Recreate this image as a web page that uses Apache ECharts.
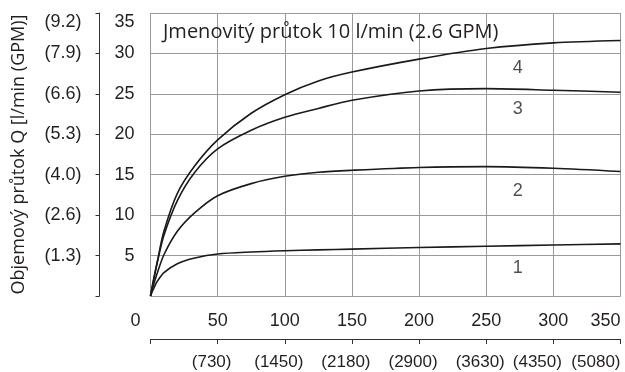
<!DOCTYPE html>
<html>
<head>
<meta charset="utf-8">
<script src="https://cdn.jsdelivr.net/npm/echarts@6/dist/echarts.min.js"></script>
<style>html,body{margin:0;padding:0;background:#fff}.c{width:625px;height:372px}</style>
</head>
<body>
<div id="a" class="c"></div>
<script>
// ---- data ----
var titleText = 'Jmenovitý průtok 10 l/min (2.6 GPM)';
var yName = 'Objemový průtok Q [l/min (GPM)]';
var flowX = [0, 2, 5, 10, 20, 33, 50, 75, 100, 125, 150, 200, 250, 300, 350];
var curve1 = [0, 0.8, 1.8, 2.9, 4.0, 4.7, 5.2, 5.45, 5.6, 5.7, 5.8, 6.0, 6.15, 6.3, 6.45];
var curve2 = [0, 1.2, 2.8, 5.1, 8.0, 10.3, 12.4, 13.9, 14.8, 15.3, 15.55, 15.9, 16.0, 15.8, 15.4];
var curve3 = [0, 1.7, 4.1, 7.5, 11.8, 15.3, 18.2, 20.5, 22.1, 23.2, 24.2, 25.35, 25.65, 25.45, 25.2];
var curve4 = [0, 1.8, 4.2, 8.0, 12.7, 16.1, 19.3, 22.6, 24.9, 26.6, 27.7, 29.3, 30.6, 31.3, 31.6];
var curveNames = ['1', '2', '3', '4'];
var curveLabelX = [273.5, 273.5, 273.5, 273.5];
var curveLabelY = [3.4, 13.0, 23.1, 28.2];
var xTicks = [0, 50, 100, 150, 200, 250, 300, 350];
var yTicks = [0, 5, 10, 15, 20, 25, 30, 35];
var gpmLabels = ['', '(1.3)', '(2.6)', '(4.0)', '(5.3)', '(6.6)', '(7.9)', '(9.2)'];
var rpmLabels = ['', '(730)', '(1450)', '(2180)', '(2900)', '(3630)', '(4350)', '(5080)'];

var SANS = '"Liberation Sans", Arial, sans-serif';
var HUMAN = '"Open Sans", "Noto Sans", sans-serif';
var TXT = '#231f20';
var GRIDC = '#9a9a9a';

function pairs(ys) { return flowX.map(function (x, i) { return [x, ys[i]]; }); }
function lineSeries(name, ys) {
  return { name: name, type: 'line', data: pairs(ys), smooth: 0.3, showSymbol: false,
    lineStyle: { color: '#1a1a1a', width: 1.6 }, silent: true, z: 5 };
}

var x0 = { type: 'value', min: 0, max: 350, interval: 50, position: 'bottom',
  axisLine: { show: false }, axisTick: { show: false },
  splitLine: { show: true, lineStyle: { color: GRIDC, width: 1 } },
  axisLabel: { margin: 16, fontFamily: SANS, fontSize: 18, color: TXT,
    alignMaxLabel: 'right', alignMinLabel: 'right', hideOverlap: false,
    formatter: function (v) { return v === 0 ? '{z|0}' : String(v); },
    rich: { z: { fontFamily: SANS, fontSize: 18, color: TXT, padding: [0, 10, 0, 0] } } } };
var x1 = { type: 'value', min: 0, max: 350, interval: 50, position: 'bottom', offset: 43,
  axisLine: { show: true, onZero: false, lineStyle: { color: '#333', width: 1 } },
  axisTick: { show: true, inside: false, length: 5, lineStyle: { color: '#333' } },
  splitLine: { show: false },
  axisLabel: { margin: 15, fontFamily: SANS, fontSize: 17, color: TXT, alignMaxLabel: 'right', hideOverlap: false,
    formatter: function (v) {
      var i = Math.round(v / 50);
      var s = rpmLabels[i];
      if (!s) return '';
      if (i === 7) return s;
      return (i === 6 ? '{b|' : '{a|') + s + '}';
    },
    rich: { a: { fontFamily: SANS, fontSize: 17, color: TXT, padding: [0, 12, 0, 0] },
            b: { fontFamily: SANS, fontSize: 17, color: TXT, padding: [0, 32, 0, 0] } } } };
var y0 = { type: 'value', min: 0, max: 35, interval: 5, position: 'left',
  axisLine: { show: false }, axisTick: { show: false },
  splitLine: { show: true, lineStyle: { color: GRIDC, width: 1 } },
  axisLabel: { margin: 16, fontFamily: SANS, fontSize: 18, color: TXT, verticalAlignMaxLabel: 'top',
    formatter: function (v) { return v === 0 ? '' : String(v); } } };
var y1 = { type: 'value', min: 0, max: 35, interval: 5, position: 'left', offset: 51,
  name: yName, nameLocation: 'middle', nameGap: 72, nameRotate: 90,
  nameTextStyle: { fontFamily: HUMAN, fontSize: 18, color: TXT },
  axisLine: { show: true, onZero: false, lineStyle: { color: '#333', width: 1 } },
  axisTick: { show: true, inside: false, length: 4, lineStyle: { color: '#333' } },
  splitLine: { show: false },
  axisLabel: { margin: 18, fontFamily: SANS, fontSize: 18, color: TXT, verticalAlignMaxLabel: 'top',
    formatter: function (v) { return gpmLabels[Math.round(v / 5)] || ''; } } };

var gridLines = xTicks.map(function (v) { return { xAxis: v }; })
  .concat(yTicks.map(function (v) { return { yAxis: v }; }));

var option = {
  animation: false,
  title: { text: titleText, left: 158, top: 17,
    textStyle: { fontFamily: HUMAN, fontSize: 20, fontWeight: 'normal', color: TXT } },
  grid: { left: 150.5, right: 4.5, top: 13, bottom: 76 },
  xAxis: [x0, x1],
  yAxis: [y0, y1],
  series: [
    { type: 'scatter', symbolSize: 0, silent: true, z: 1, data: [],
      markLine: { silent: true, symbol: ['none', 'none'], animation: false,
        label: { show: false }, emphasis: { disabled: true },
        lineStyle: { color: GRIDC, width: 1, type: 'solid' }, data: gridLines } },
    lineSeries('1', curve1),
    lineSeries('2', curve2),
    lineSeries('3', curve3),
    lineSeries('4', curve4),
    { type: 'scatter', symbolSize: 0, silent: true,
      data: curveNames.map(function (n, i) { return { name: n, value: [curveLabelX[i], curveLabelY[i]] }; }),
      label: { show: true, position: 'inside', formatter: '{b}', fontFamily: SANS, fontSize: 18, color: TXT } }
  ]
};
echarts.init(document.getElementById('a')).setOption(option);
</script>
</body>
</html>
